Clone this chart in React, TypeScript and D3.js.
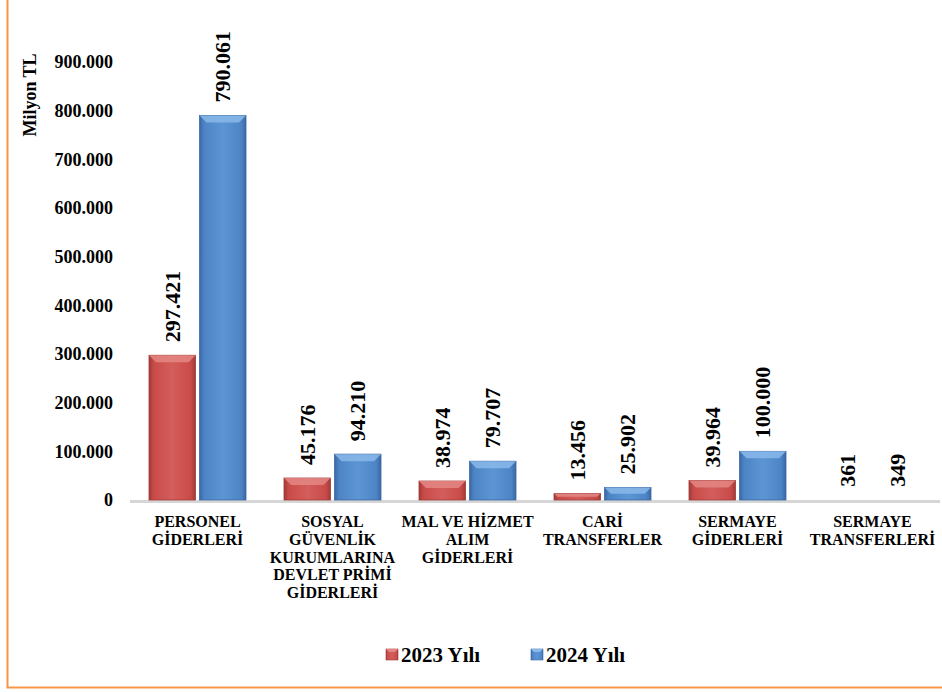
import React from "react";
import * as d3 from "d3";

const categories: string[][] = [
  ["PERSONEL", "GİDERLERİ"],
  ["SOSYAL", "GÜVENLİK", "KURUMLARINA", "DEVLET PRİMİ", "GİDERLERİ"],
  ["MAL VE HİZMET", "ALIM", "GİDERLERİ"],
  ["CARİ", "TRANSFERLER"],
  ["SERMAYE", "GİDERLERİ"],
  ["SERMAYE", "TRANSFERLERİ"],
];
const seriesNames = ["2023 Yılı", "2024 Yılı"];
const values2023 = [297421, 45176, 38974, 13456, 39964, 361];
const values2024 = [790061, 94210, 79707, 25902, 100000, 349];
const yTicks = [0, 100000, 200000, 300000, 400000, 500000, 600000, 700000, 800000, 900000];
const yLabel = "Milyon TL";

const W = 942;
const H = 692;
const FONT = "'Liberation Serif', 'Times New Roman', serif";

const loc = d3.formatLocale({ thousands: ".", grouping: [3], decimal: ",", currency: ["", ""] });
const fmt = loc.format(",");

const palette = [
  { base: "#c94b49", dark: "#a03a37", light: "#d35e5b", bevel: "#e48784" },
  { base: "#4d84c6", dark: "#3a68a3", light: "#5d95d4", bevel: "#8ab8ea" },
];

export default function App() {
  const keys = categories.map((c) => c.join(" "));
  const x0 = d3.scaleBand<string>().domain(keys).range([130, 940]).padding(0);
  const x1 = d3
    .scaleBand<string>()
    .domain(seriesNames)
    .range([19, x0.bandwidth() - 19])
    .paddingInner(0.08);
  const y = d3.scaleLinear().domain([0, 900000]).range([500, 62]);
  const series = [values2023, values2024];

  return (
    <div style={{ position: "fixed", left: 0, top: 0, width: W, height: H, background: "#fff" }}>
      <svg width={W} height={H} style={{ display: "block" }}>
        <defs>
          {palette.map((p, i) => (
            <linearGradient key={i} id={`g${i}`} x1="0" x2="1" y1="0" y2="0">
              <stop offset="0" stopColor={p.dark} />
              <stop offset="0.1" stopColor={p.base} />
              <stop offset="0.5" stopColor={p.light} />
              <stop offset="0.9" stopColor={p.base} />
              <stop offset="1" stopColor={p.dark} />
            </linearGradient>
          ))}
        </defs>
        <rect x={7.5} y={-10} width={W + 20} height={687.5 + 10} fill="none" stroke="#f79646" strokeWidth={2} />

        {/* y axis title */}
        <text
          transform={`translate(36,95) rotate(-90)`}
          textAnchor="middle"
          fontFamily={FONT}
          fontWeight="bold"
          fontSize={18}
          fill="#000"
        >
          {yLabel}
        </text>

        {/* y ticks */}
        {yTicks.map((t) => (
          <text
            key={t}
            x={113}
            y={y(t)}
            dy="0.35em"
            textAnchor="end"
            fontFamily={FONT}
            fontWeight="bold"
            fontSize={18}
            fill="#000"
          >
            {fmt(t)}
          </text>
        ))}

        {/* baseline */}
        <line x1={130} x2={940} y1={y(0) + 1.5} y2={y(0) + 1.5} stroke="#d6d6d6" strokeWidth={3} />

        {/* bars */}
        {keys.map((k, ci) => (
          <g key={k} transform={`translate(${x0(k)},0)`}>
            {seriesNames.map((s, si) => {
              const v = series[si][ci];
              const bx = x1(s) as number;
              const bw = x1.bandwidth();
              const top = y(v);
              const h = y(0) - top;
              const bev = Math.min(7, h / 2);
              const p = palette[si];
              return (
                <g key={s}>
                  {h > 0.5 && (
                    <>
                      <rect x={bx} y={top} width={bw} height={h} fill={`url(#g${si})`} stroke={p.dark} strokeWidth={0.8} />
                      <polygon
                        points={`${bx},${top} ${bx + bw},${top} ${bx + bw - bev},${top + bev} ${bx + bev},${top + bev}`}
                        fill={p.bevel}
                        opacity={0.85}
                      />
                    </>
                  )}
                  <text
                    transform={`translate(${bx + bw / 2},${top - 13}) rotate(-90)`}
                    dy="0.35em"
                    textAnchor="start"
                    fontFamily={FONT}
                    fontWeight="bold"
                    fontSize={22}
                    fill="#000"
                  >
                    {fmt(v)}
                  </text>
                </g>
              );
            })}
          </g>
        ))}

        {/* category labels */}
        {categories.map((lines, ci) => (
          <text
            key={ci}
            x={(x0(keys[ci]) as number) + x0.bandwidth() / 2}
            y={527}
            textAnchor="middle"
            fontFamily={FONT}
            fontWeight="bold"
            fontSize={16}
            fill="#000"
          >
            {lines.map((l, li) => (
              <tspan key={li} x={(x0(keys[ci]) as number) + x0.bandwidth() / 2} y={527 + li * 17.8}>
                {l}
              </tspan>
            ))}
          </text>
        ))}

        {/* legend */}
        {seriesNames.map((s, si) => {
          const lx = [386, 531][si];
          const p = palette[si];
          return (
            <g key={s}>
              <rect x={lx} y={649} width={12} height={11} fill={`url(#g${si})`} stroke={p.dark} strokeWidth={0.6} />
              <polygon points={`${lx},649 ${lx + 12},649 ${lx + 9},652 ${lx + 3},652`} fill={p.bevel} />
              <text x={lx + 15} y={662} fontFamily={FONT} fontWeight="bold" fontSize={21} fill="#000">
                {s}
              </text>
            </g>
          );
        })}
      </svg>
    </div>
  );
}
